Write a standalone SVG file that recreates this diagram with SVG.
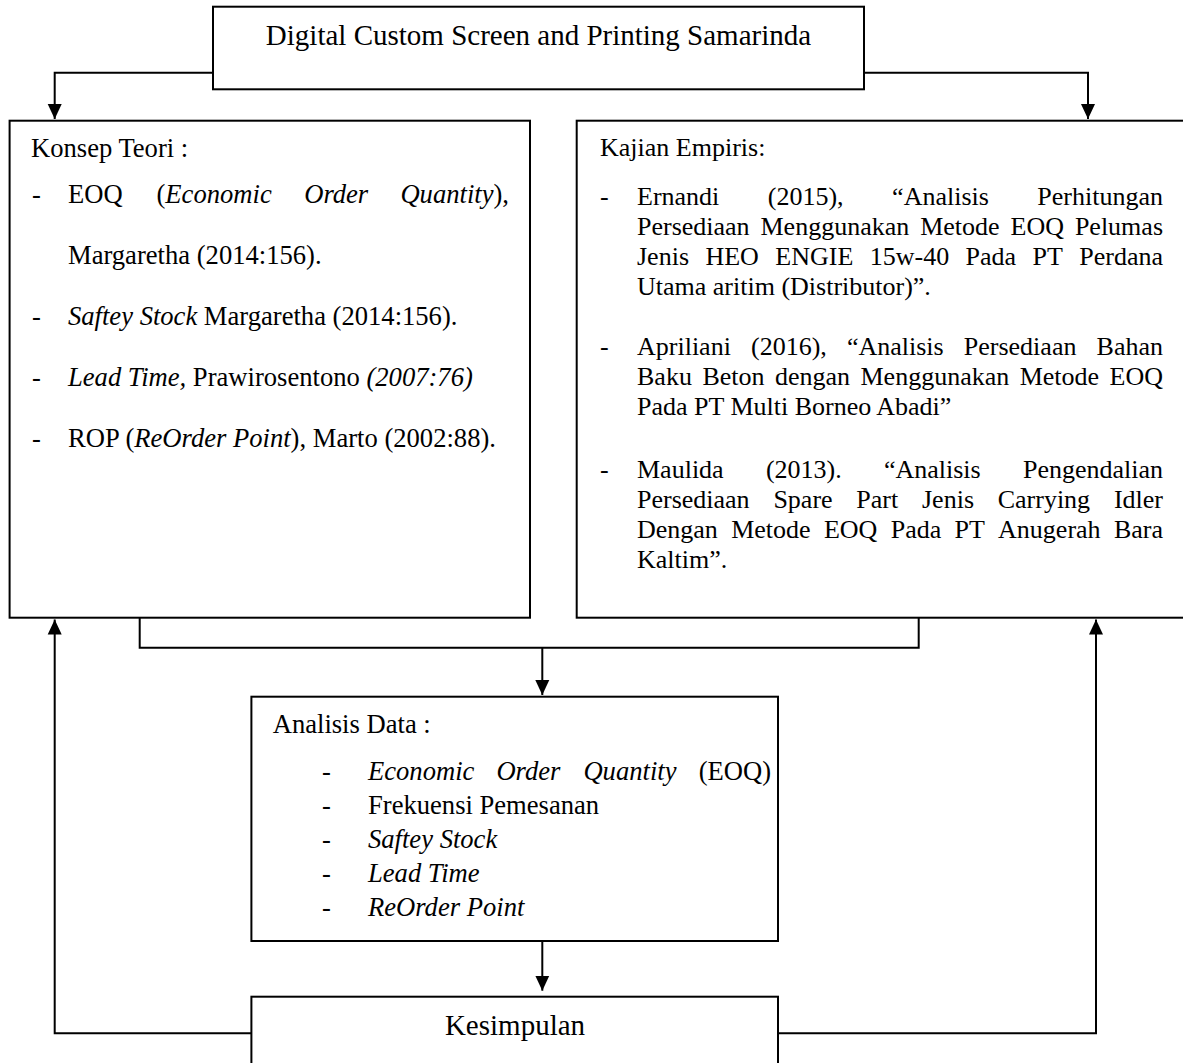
<svg xmlns="http://www.w3.org/2000/svg" width="1183" height="1063" viewBox="0 0 1183 1063">
<style>
.box{fill:#fff;stroke:#000;stroke-width:2}
.ln{fill:none;stroke:#000;stroke-width:2}
text{font-family:"Liberation Serif","Times New Roman",serif;font-size:26px;fill:#000}
.l{font-size:26.6px}
.it{font-style:italic}
</style>
<defs>
<marker id="ah" markerUnits="userSpaceOnUse" markerWidth="16" markerHeight="16" viewBox="0 0 16 16" refX="15" refY="8" orient="auto">
<path d="M0,1 L15,8 L0,15 Z" fill="#000"/>
</marker>
</defs>
<rect width="1183" height="1063" fill="#fff"/>
<g id="connectors">
<path class="ln" d="M213,72.7 H54.7 V119" marker-end="url(#ah)"/>
<path class="ln" d="M864,72.7 H1088 V119" marker-end="url(#ah)"/>
<path class="ln" d="M139.7,617.7 V647.7 H918.7 V617.7"/>
<path class="ln" d="M542.3,647.7 V695" marker-end="url(#ah)"/>
<path class="ln" d="M542.3,941 V990.7" marker-end="url(#ah)"/>
<path class="ln" d="M251.4,1033.3 H54.7 V619.5" marker-end="url(#ah)"/>
<path class="ln" d="M778,1033.3 H1096 V619.5" marker-end="url(#ah)"/>
</g>
<g id="title">
<rect class="box" x="213" y="6.7" width="651" height="82.6"/>
<text x="538.5" y="45" text-anchor="middle" style="font-size:29px">Digital Custom Screen and Printing Samarinda</text>
</g>
<g id="konsep">
<rect class="box" x="9.6" y="120.7" width="520.4" height="497"/>
<text class="l" x="31" y="157">Konsep Teori :</text>
<text class="l" x="32" y="203">-</text>
<text class="l" y="203"><tspan x="68">EOQ</tspan><tspan x="156.5">(<tspan class="it">Economic</tspan></tspan><tspan x="304.2" class="it">Order</tspan></text>
<text class="l" x="509" y="203" text-anchor="end"><tspan class="it">Quantity</tspan>),</text>
<text class="l" x="68" y="264">Margaretha (2014:156).</text>
<text class="l" x="32" y="325">-</text>
<text class="l" x="68" y="325"><tspan class="it">Saftey Stock</tspan> Margaretha (2014:156).</text>
<text class="l" x="32" y="386">-</text>
<text class="l" x="68" y="386"><tspan class="it">Lead Time,</tspan> Prawirosentono <tspan class="it">(2007:76)</tspan></text>
<text class="l" x="32" y="447">-</text>
<text class="l" x="68" y="447">ROP (<tspan class="it">ReOrder Point</tspan>), Marto (2002:88).</text>
</g>
<g id="kajian">
<rect class="box" x="576.7" y="120.7" width="620" height="497"/>
<text x="600" y="156">Kajian Empiris:</text>
<text x="600" y="205">-</text>
<text y="205"><tspan x="637">Ernandi</tspan><tspan x="767.8">(2015),</tspan><tspan x="892.1">“Analisis</tspan></text>
<text x="1163" y="205" text-anchor="end">Perhitungan</text>
<text y="235"><tspan x="637">Persediaan</tspan><tspan x="760.5">Menggunakan</tspan><tspan x="920.2">Metode</tspan><tspan x="1010.6">EOQ</tspan></text>
<text x="1163" y="235" text-anchor="end">Pelumas</text>
<text y="265"><tspan x="637">Jenis</tspan><tspan x="705.4">HEO</tspan><tspan x="775.3">ENGIE</tspan><tspan x="869.8">15w-40</tspan><tspan x="965.6">Pada</tspan><tspan x="1032.6">PT</tspan></text>
<text x="1163" y="265" text-anchor="end">Perdana</text>
<text x="637" y="295">Utama aritim (Distributor)”.</text>
<text x="600" y="355">-</text>
<text y="355"><tspan x="637">Apriliani</tspan><tspan x="751">(2016),</tspan><tspan x="846.9">“Analisis</tspan><tspan x="963.8">Persediaan</tspan></text>
<text x="1163" y="355" text-anchor="end">Bahan</text>
<text y="385"><tspan x="637">Baku</tspan><tspan x="702.4">Beton</tspan><tspan x="775">dengan</tspan><tspan x="860.5">Menggunakan</tspan><tspan x="1019.7">Metode</tspan></text>
<text x="1163" y="385" text-anchor="end">EOQ</text>
<text x="637" y="415">Pada PT Multi Borneo Abadi”</text>
<text x="600" y="478">-</text>
<text y="478"><tspan x="637">Maulida</tspan><tspan x="765.9">(2013).</tspan><tspan x="883.9">“Analisis</tspan></text>
<text x="1163" y="478" text-anchor="end">Pengendalian</text>
<text y="508"><tspan x="637">Persediaan</tspan><tspan x="773.4">Spare</tspan><tspan x="856.3">Part</tspan><tspan x="922">Jenis</tspan><tspan x="997.7">Carrying</tspan></text>
<text x="1163" y="508" text-anchor="end">Idler</text>
<text y="538"><tspan x="637">Dengan</tspan><tspan x="731.2">Metode</tspan><tspan x="823.9">EOQ</tspan><tspan x="890.7">Pada</tspan><tspan x="954.5">PT</tspan><tspan x="998.1">Anugerah</tspan></text>
<text x="1163" y="538" text-anchor="end">Bara</text>
<text x="637" y="568">Kaltim”.</text>
</g>
<g id="analisis">
<rect class="box" x="251.4" y="696.7" width="526.6" height="244.3"/>
<text class="l" x="272.7" y="733">Analisis Data :</text>
<text class="l" x="322" y="780">-</text>
<text class="l it" y="780"><tspan x="368">Economic</tspan><tspan x="496.4">Order</tspan><tspan x="583.4">Quantity</tspan></text>
<text class="l" x="771" y="780" text-anchor="end">(EOQ)</text>
<text class="l" x="322" y="814">-</text>
<text class="l" x="368" y="814">Frekuensi Pemesanan</text>
<text class="l" x="322" y="848">-</text>
<text class="l it" x="368" y="848">Saftey Stock</text>
<text class="l" x="322" y="882">-</text>
<text class="l it" x="368" y="882">Lead Time</text>
<text class="l" x="322" y="916">-</text>
<text class="l it" x="368" y="916">ReOrder Point</text>
</g>
<g id="kesimpulan">
<rect class="box" x="251.4" y="996.7" width="526.6" height="80"/>
<text x="515" y="1035" text-anchor="middle" style="font-size:29px">Kesimpulan</text>
</g>
</svg>
